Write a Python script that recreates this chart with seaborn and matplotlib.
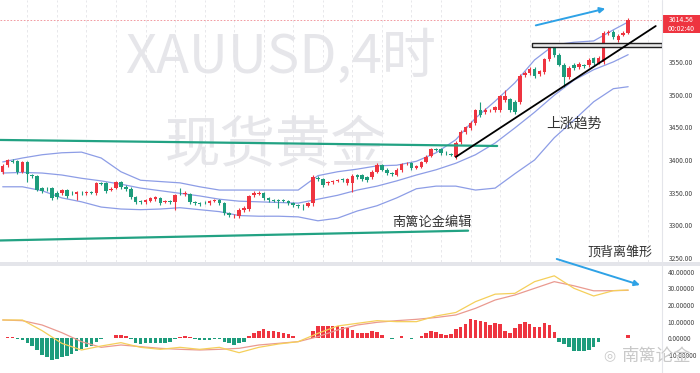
import numpy as np
import pandas as pd
import matplotlib
matplotlib.use("Agg")
import matplotlib.pyplot as plt
import seaborn as sns
from matplotlib.patches import Rectangle, ConnectionPatch

# 4h candles, XAUUSD
opens = [3382, 3392, 3398, 3398, 3382, 3397, 3377, 3375, 3357, 3356,
         3357, 3350, 3350, 3354, 3350, 3348, 3350, 3350, 3351, 3350,
         3365, 3365, 3354, 3357, 3366, 3359, 3356, 3343, 3337, 3336,
         3337, 3340, 3342, 3336, 3337, 3336, 3350, 3348, 3348, 3336,
         3334, 3336, 3334, 3337, 3339, 3334, 3319, 3314, 3314, 3324,
         3325, 3346, 3348, 3350, 3342, 3339, 3339, 3339, 3337, 3334,
         3331, 3330, 3330, 3334, 3372, 3371, 3365, 3366, 3368, 3371,
         3365, 3365, 3377, 3377, 3374, 3374, 3382, 3392, 3385, 3380,
         3377, 3385, 3395, 3395, 3388, 3389, 3397, 3406, 3417, 3417,
         3411, 3409, 3405, 3428, 3443, 3449, 3457, 3476, 3473, 3476,
         3476, 3476, 3492, 3493, 3489, 3489, 3530, 3533, 3539, 3532,
         3535, 3554, 3573, 3561, 3545, 3527, 3545, 3542, 3545, 3545,
         3556, 3548, 3550, 3594, 3596, 3583, 3591, 3594]
closes = [3391, 3400, 3397, 3382, 3397, 3379, 3376, 3354, 3353, 3355,
          3342, 3343, 3354, 3345, 3349, 3351, 3349, 3350, 3350, 3365,
          3364, 3353, 3356, 3366, 3359, 3356, 3343, 3336, 3336, 3339,
          3342, 3343, 3334, 3337, 3336, 3346, 3349, 3350, 3336, 3334,
          3333, 3335, 3337, 3339, 3334, 3319, 3316, 3314, 3324, 3327,
          3345, 3350, 3350, 3342, 3339, 3338, 3338, 3338, 3334, 3331,
          3330, 3329, 3334, 3374, 3371, 3362, 3366, 3368, 3369, 3370,
          3371, 3376, 3374, 3371, 3369, 3382, 3392, 3385, 3380, 3379,
          3385, 3394, 3395, 3388, 3391, 3397, 3405, 3417, 3416, 3411,
          3410, 3408, 3426, 3443, 3450, 3457, 3476, 3469, 3476, 3476,
          3481, 3498, 3498, 3476, 3473, 3528, 3533, 3539, 3528, 3536,
          3554, 3573, 3561, 3545, 3527, 3541, 3541, 3547, 3544, 3553,
          3548, 3556, 3594, 3596, 3588, 3590, 3594, 3614.56]
highs = [3394, 3402, 3401, 3400, 3399, 3399, 3379, 3377, 3359, 3358,
         3359, 3352, 3356, 3356, 3352, 3353, 3352, 3352, 3353, 3367,
         3367, 3366, 3358, 3368, 3368, 3361, 3358, 3345, 3339, 3341,
         3344, 3345, 3344, 3339, 3339, 3348, 3357, 3352, 3350, 3337,
         3336, 3337, 3339, 3341, 3341, 3336, 3321, 3317, 3326, 3329,
         3347, 3352, 3352, 3351, 3344, 3341, 3341, 3341, 3339, 3336,
         3333, 3332, 3336, 3377, 3375, 3373, 3368, 3370, 3371, 3373,
         3373, 3378, 3379, 3379, 3376, 3384, 3395, 3394, 3387, 3382,
         3387, 3396, 3397, 3397, 3393, 3399, 3407, 3419, 3419, 3419,
         3413, 3411, 3429, 3446, 3452, 3459, 3478, 3489, 3479, 3478,
         3483, 3500, 3507, 3495, 3491, 3531, 3536, 3542, 3542, 3538,
         3556, 3575, 3575, 3563, 3548, 3543, 3548, 3550, 3547, 3556,
         3558, 3559, 3597, 3599, 3599, 3593, 3597, 3617]
lows = [3378, 3390, 3395, 3379, 3380, 3366, 3373, 3352, 3350, 3352,
        3339, 3340, 3347, 3342, 3346, 3339, 3346, 3347, 3348, 3347,
        3361, 3350, 3352, 3355, 3356, 3353, 3341, 3333, 3333, 3333,
        3335, 3338, 3331, 3334, 3333, 3323, 3346, 3345, 3333, 3331,
        3330, 3332, 3331, 3335, 3331, 3316, 3313, 3311, 3311, 3321,
        3322, 3343, 3346, 3339, 3336, 3335, 3326, 3335, 3331, 3328,
        3327, 3323, 3328, 3330, 3368, 3359, 3362, 3364, 3366, 3367,
        3362, 3351, 3371, 3368, 3366, 3371, 3380, 3383, 3377, 3376,
        3375, 3382, 3392, 3385, 3386, 3387, 3395, 3404, 3413, 3408,
        3407, 3406, 3402, 3425, 3440, 3446, 3454, 3466, 3470, 3473,
        3474, 3474, 3488, 3473, 3470, 3486, 3527, 3530, 3526, 3529,
        3532, 3551, 3558, 3543, 3512, 3524, 3538, 3539, 3541, 3542,
        3545, 3546, 3547, 3591, 3585, 3581, 3589, 3592]

# Bollinger bands, read every 4th candle
band_idx = [0, 4, 8, 12, 16, 20, 24, 28, 32, 36, 40, 44, 48, 52, 56, 60,
            64, 68, 72, 76, 80, 84, 88, 92, 96, 100, 104, 108, 112, 116,
            120, 124, 127]
boll_upper = [3397, 3403, 3408, 3411, 3412, 3403, 3382, 3369, 3367, 3365,
              3359, 3354, 3354, 3354, 3354, 3354, 3376, 3382, 3386, 3391,
              3392, 3398, 3411, 3431, 3464, 3490, 3518, 3553, 3576, 3580,
              3582, 3599, 3611]
boll_mid = [3380, 3381, 3380, 3377, 3372, 3368, 3363, 3357, 3353, 3349,
            3345, 3340, 3337, 3336, 3335, 3334, 3340, 3346, 3354, 3360,
            3368, 3377, 3385, 3395, 3408, 3426, 3449, 3473, 3499, 3522,
            3538, 3550, 3561]
boll_lower = [3359, 3359, 3353, 3342, 3336, 3328, 3325, 3324, 3325, 3327,
              3324, 3321, 3315, 3314, 3314, 3313, 3307, 3311, 3322, 3330,
              3342, 3356, 3360, 3360, 3354, 3357, 3379, 3400, 3434, 3461,
              3489, 3509, 3512]

# MACD
macd_hist = [0.4, 0.6, 1.0, -0.6, -1.0, -3.0, -4.6, -7.0, -10.0, -11.4,
             -13.0, -12.6, -11.4, -10.6, -9.4, -7.4, -6.6, -5.4, -4.6, -2.0,
             -0.2, 0.2, 0.2, 1.8, 1.8, 1.2, -0.2, -3.0, -3.4, -2.6,
             -2.6, -2.6, -2.6, -2.6, -2.0, -0.6, 0.6, 1.6, 0.6, -0.6,
             -0.8, -0.8, -1.0, -0.2, -0.2, -2.0, -3.0, -4.0, -3.0, -2.0,
             1.4, 3.4, 4.4, 5.4, 4.6, 4.2, 3.8, 3.0, 2.6, 1.4,
             0.2, 0.1, 0.2, 4.6, 7.4, 7.4, 7.4, 7.4, 7.4, 7.0,
             6.0, 5.0, 3.4, 3.4, 3.4, 4.2, 3.8, 1.8, 0.2, -0.6,
             0.2, 1.4, 0.1, -0.3, 0.2, 1.4, 3.4, 4.2, 3.8, 2.6,
             1.8, 2.6, 5.4, 7.0, 8.6, 11.4, 11.0, 10.6, 10.0, 8.0,
             9.0, 8.4, 4.6, 3.4, 6.4, 8.6, 9.6, 8.6, 6.6, 7.0,
             9.4, 8.0, 3.6, -2.0, -3.4, -5.4, -7.4, -7.4, -7.4, -7.0,
             -5.4, -2.4, 0.1, 0.1, 0.1, 0.1, 0.1, 2.0]
macd_dif = [11, 11, 4.6, -3, -7, -4.6, -2.6, -5.4, -6.6, -5.4, -6.6, -5.4,
            -8.6, -5.4, -3.4, -2, 3, 7.4, 9, 10.6, 10, 10, 13.4, 15.5, 22,
            26.5, 27, 34, 37.5, 30, 25.4, 28.6, 29]
macd_dea = [11, 10.6, 8, 3.4, -2, -5.4, -4, -5, -6, -6.6, -7, -6.6, -6,
            -4, -3, -2, 1, 5, 8, 9.6, 10.6, 11.4, 12.5, 14, 18, 23, 26, 30,
            34, 31.5, 28.5, 28.6, 28.8]

price_ticks = [3250, 3300, 3350, 3400, 3450, 3500, 3550]
macd_ticks = [-10, 0, 10, 20, 30, 40]
last_price = 3614.56

RED = '#ee3440'
GREEN = '#1d9c7c'
BAND = '#8d9de6'
TEAL = '#22a283'
BLUE = '#2ea2e6'

sns.set_theme(style="white")
plt.rcParams['font.family'] = ['Noto Sans CJK SC', 'DejaVu Sans']

fig = plt.figure(figsize=(7, 3.73), dpi=100)
ax = fig.add_axes([0, 0.2976, 0.9457, 0.7024])
axm = fig.add_axes([0, 0, 0.9457, 0.2869])

o = np.array(opens, dtype=float)
c = np.array(closes, dtype=float)
idx = np.arange(len(o))
cols = np.where(c >= o, RED, GREEN)

# watermark
ax.text(24.8, 3556.7, 'XAUUSD,4时', fontsize=39, color='#e6e6ea', ha='left', va='center',
        fontweight='light', zorder=0)
ax.text(55.5, 3422, '现货黄金', fontsize=40, color='#e6e6ea', ha='center', va='center',
        fontweight='light', zorder=0)

# vertical grid
for gx in range(5, 134, 6):
    ax.axvline(gx, color='#e4e4e8', lw=0.6, ls=(0, (3, 3)), zorder=0)

# candles
ax.vlines(idx, lows, highs, colors=cols, lw=0.8, zorder=3)
ax.bar(idx, np.maximum(np.abs(c - o), 0.8), bottom=np.minimum(o, c), width=0.72,
       color=cols, linewidth=0, zorder=4)

# bollinger
bands = pd.DataFrame({'idx': band_idx, 'upper': boll_upper, 'mid': boll_mid, 'lower': boll_lower})
for col in ['upper', 'mid', 'lower']:
    sns.lineplot(data=bands, x='idx', y=col, ax=ax, color=BAND, lw=0.9, zorder=2)

# current price line
ax.axhline(last_price, color='#f08a92', lw=0.6, ls=(0, (2, 2)), zorder=1)

# channel lines
ax.plot([-0.55, 100.4], [3430.6, 3421.4], color=TEAL, lw=1.6, zorder=5)
ax.plot([-0.55, 94.5], [3276.9, 3291.9], color=TEAL, lw=1.6, zorder=5)
# uptrend line
ax.plot([92.0, 132.6], [3404.6, 3604.8], color='black', lw=1.3, zorder=6)
# resistance box
ax.add_patch(Rectangle((107.4, 3573.2), 26.5, 6.4, facecolor='#e8e8e8',
                       edgecolor='#222222', lw=1.0, zorder=5))
# blue arrow top
ax.annotate('', xy=(122.9, 3632.4), xytext=(107.7, 3604.8),
            arrowprops=dict(arrowstyle='-|>', color=BLUE, lw=1.4, mutation_scale=8), zorder=7)

ax.text(116, 3456, '上涨趋势', fontsize=10, color='#333333', ha='center', va='center')
ax.text(87.2, 3305, '南篱论金编辑', fontsize=9.5, color='#333333', ha='center', va='center')
ax.text(125.3, 3259.5, '顶背离雏形', fontsize=9.4, color='#333333', ha='center', va='center')

ax.set_xlim(-0.55, 133.87)
ax.set_ylim(3244, 3644.6)
ax.yaxis.tick_right()
ax.set_yticks(price_ticks)
ax.set_yticklabels([f'{t:.2f}' for t in price_ticks])
ax.tick_params(axis='y', length=0, pad=5, labelsize=4.8, labelcolor='#444444')
ax.set_xticks([])
ax.set_xlabel('')
ax.set_ylabel('')
for s in ax.spines.values():
    s.set_visible(False)

# MACD panel
h = np.array(macd_hist)
hcols = np.where(h >= 0, RED, GREEN)
axm.bar(idx, h, width=0.72, color=hcols, linewidth=0, zorder=3)
macd = pd.DataFrame({'idx': band_idx, 'dif': macd_dif, 'dea': macd_dea})
sns.lineplot(data=macd, x='idx', y='dea', ax=axm, color='#ea9a90', lw=0.9, zorder=4)
sns.lineplot(data=macd, x='idx', y='dif', ax=axm, color='#f5cf5a', lw=0.9, zorder=4)
axm.set_xlim(-0.55, 133.87)
axm.set_ylim(-20.8, 43.4)
axm.yaxis.tick_right()
axm.set_yticks(macd_ticks)
axm.set_yticklabels([f'{t:.5f}' for t in macd_ticks])
axm.tick_params(axis='y', length=0, pad=4, labelsize=4.6, labelcolor='#444444')
axm.set_xticks([])
axm.set_xlabel('')
axm.set_ylabel('')
for s in axm.spines.values():
    s.set_visible(False)

# arrow across panels (divergence)
arrow = ConnectionPatch(xyA=(112.5, 3248.6), coordsA=ax.transData,
                        xyB=(129.4, 32.0), coordsB=axm.transData,
                        arrowstyle='-|>', color=BLUE, lw=1.4, mutation_scale=8, zorder=10)
fig.add_artist(arrow)

# panel separator and right axis border
fig.add_artist(Rectangle((0, 0.2869), 1, 0.0107, transform=fig.transFigure,
                         facecolor='#e4e5ea', edgecolor='none'))
fig.add_artist(plt.Line2D([0.9457, 0.9457], [0, 1], transform=fig.transFigure,
                          color='#e4e5ea', lw=0.8))

# last price tag
fig.add_artist(Rectangle((0.947, 0.9115), 0.053, 0.0483, transform=fig.transFigure,
                         facecolor='#ee3440', edgecolor='none'))
fig.text(0.973, 0.946, f'{last_price:.2f}', fontsize=5.0, color='white', ha='center', va='center')
fig.text(0.973, 0.923, '00:02:40', fontsize=5.0, color='white', ha='center', va='center')

# weibo watermark
fig.text(0.9386, 0.047, '南篱论金', fontsize=12.5, color='#c9c9c9', ha='center', va='center')
fig.text(0.87, 0.047, '◎', fontsize=10, color='#c9c9c9', ha='center', va='center',
         family=['DejaVu Sans'])

fig.savefig('out.png', dpi=100)
